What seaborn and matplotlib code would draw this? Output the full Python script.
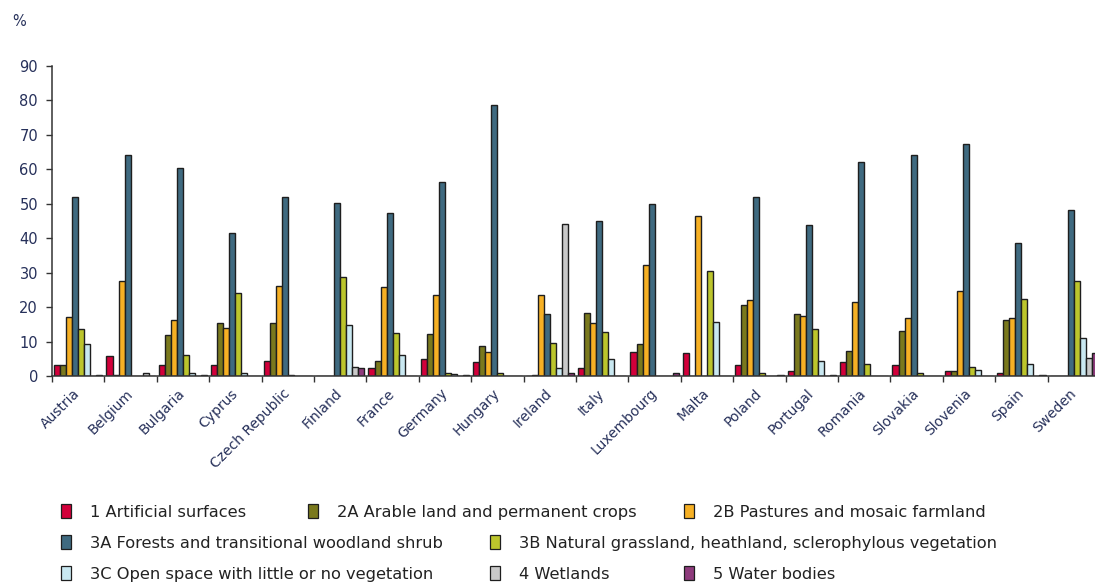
import numpy as np
import pandas as pd
import matplotlib
matplotlib.use("Agg")
import matplotlib.pyplot as plt
import seaborn as sns
from matplotlib.patches import Patch

# Share of each land cover class by country (%)
countries = ["Austria", "Belgium", "Bulgaria", "Cyprus", "Czech Republic", "Finland",
             "France", "Germany", "Hungary", "Ireland", "Italy", "Luxembourg", "Malta",
             "Poland", "Portugal", "Romania", "Slovakia", "Slovenia", "Spain", "Sweden"]

categories = ["1 Artificial surfaces",
              "2A Arable land and permanent crops",
              "2B Pastures and mosaic farmland",
              "3A Forests and transitional woodland shrub",
              "3B Natural grassland, heathland, sclerophylous vegetation",
              "3C Open space with little or no vegetation",
              "4 Wetlands",
              "5 Water bodies"]

artificial = [3.2, 5.9, 3.2, 3.2, 4.4, 0, 2.2, 4.8, 4.0, 0, 2.2, 7.1, 6.6, 3.2, 1.4, 4.0, 3.2, 1.4, 1.0, 0]
arable     = [3.2, 0.3, 11.9, 15.3, 15.3, 0, 4.4, 12.2, 8.8, 0.4, 18.4, 9.2, 0, 20.6, 18.0, 7.4, 13.2, 1.4, 16.3, 0]
pastures   = [17.1, 27.6, 16.2, 14.0, 26.2, 0, 25.7, 23.6, 7.0, 23.6, 15.3, 32.3, 46.5, 22.0, 17.5, 21.4, 16.7, 24.6, 16.7, 0]
forests    = [52.1, 64.3, 60.3, 41.5, 52.1, 50.1, 47.2, 56.3, 78.7, 18.0, 45.0, 49.8, 0, 52.1, 43.8, 62.0, 64.2, 67.3, 38.5, 48.1]
grassland  = [13.6, 0, 6.2, 24.0, 0.3, 28.8, 12.6, 1.0, 1.0, 9.7, 12.7, 0, 30.6, 1.0, 13.6, 3.6, 1.0, 2.7, 22.4, 27.7]
open_space = [9.3, 0, 0.8, 0.8, 0, 14.8, 6.1, 0.5, 0, 2.2, 4.8, 0, 15.8, 0, 4.5, 0, 0, 1.8, 3.6, 11.0]
wetlands   = [0, 0.8, 0, 0, 0, 2.7, 0, 0, 0, 44.2, 0, 0, 0, 0, 0, 0, 0, 0, 0, 5.3]
water      = [0.4, 0, 0.4, 0, 0, 2.2, 0, 0.4, 0, 1.0, 0, 0.9, 0, 0.4, 0.4, 0, 0, 0, 0.4, 6.6]

yticks = [0, 10, 20, 30, 40, 50, 60, 70, 80, 90]

colors = ["#d2003a", "#7a791d", "#f6b024", "#3f6a80", "#bcc52c", "#c9e8f1", "#c9c9c9", "#8e3b7c"]

series = [artificial, arable, pastures, forests, grassland, open_space, wetlands, water]
df = pd.DataFrame({
    "country": countries * len(categories),
    "category": np.repeat(categories, len(countries)),
    "value": np.concatenate(series),
})

sns.set_style("ticks")
plt.rcParams["font.family"] = ["DejaVu Sans"]

W, H = 1095, 582
fig = plt.figure(figsize=(W / 100, H / 100), dpi=100)
ax = fig.add_axes([52 / W, 1 - 376 / H, 1048 / W, 310 / H])

sns.barplot(data=df, x="country", y="value", hue="category",
            order=countries, hue_order=categories,
            palette=dict(zip(categories, colors)), saturation=1,
            width=0.92, edgecolor="#1e1e1e", linewidth=1.0,
            errorbar=None, legend=False, ax=ax)

text_col = "#26305a"
ax.set_xlim(-0.5, len(countries) - 0.5)
ax.set_ylim(0, 90)
ax.set_yticks(yticks)
ax.set_yticklabels([str(v) for v in yticks], fontsize=10.5, color=text_col)
ax.set_xticks(range(len(countries)))
ax.set_xticklabels(countries, rotation=45, ha="right", va="center",
                   rotation_mode="anchor", fontsize=10, color=text_col)
ax.set_xticks(np.arange(-0.5, len(countries), 1), minor=True)
ax.tick_params(axis="x", which="major", length=0, pad=11)
ax.tick_params(axis="x", which="minor", length=4, width=1, color="#333333")
ax.tick_params(axis="y", length=4, width=1, color="#333333", pad=6)
ax.set_xlabel("")
ax.set_ylabel("")
for side in ("top", "right"):
    ax.spines[side].set_visible(False)
for side in ("left", "bottom"):
    ax.spines[side].set_color("#333333")
    ax.spines[side].set_linewidth(1.1)

fig.text(12 / W, 1 - 22 / H, "%", fontsize=10.5, color=text_col, va="center", ha="left")

# Legend entries laid out in three flowing rows
legend_slots = [(61, 512), (308, 512), (684, 512),
                (61, 543), (490, 543),
                (61, 574), (490, 574), (684, 574)]
for (px, py), cat, col in zip(legend_slots, categories, colors):
    fig.legend(handles=[Patch(facecolor=col, edgecolor="#1e1e1e", linewidth=0.9, label=cat)],
               loc="center left", bbox_to_anchor=(px / W, 1 - py / H),
               frameon=False, borderpad=0, borderaxespad=0,
               handlelength=0.6, handleheight=0.9, handletextpad=1.2,
               fontsize=11.7, labelcolor="#222222")

fig.savefig("out.png", dpi=100)
